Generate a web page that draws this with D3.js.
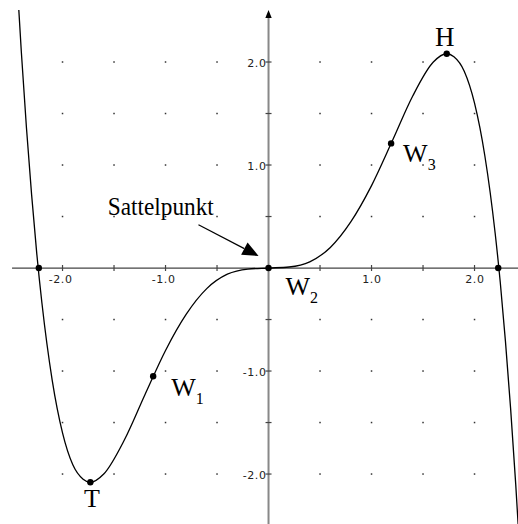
<!DOCTYPE html>
<html>
<head>
<meta charset="utf-8">
<script src="https://cdn.jsdelivr.net/npm/d3@7"></script>
<style>
  html, body { margin: 0; padding: 0; background: #fff; }
  svg { display: block; }
</style>
</head>
<body>
<div id="container"></div>
<script>
const width = 518, height = 524;

// Curve (x, f(x))
const curveX = [-2.43, -2.40, -2.35, -2.30, -2.25, -2.20, -2.10, -2.00, -1.90, -1.80, -1.73, -1.60, -1.40, -1.20, -1.00, -0.80, -0.60, -0.40, -0.20, 0,
                 0.20, 0.40, 0.60, 0.80, 1.00, 1.20, 1.40, 1.60, 1.73, 1.80, 1.90, 2.00, 2.10, 2.20, 2.25, 2.30, 2.35, 2.40, 2.43];
const curveY = [2.60, 2.10, 1.36, 0.71, 0.14, -0.34, -1.09, -1.60, -1.91, -2.05, -2.08, -2.00, -1.67, -1.23, -0.80, -0.45, -0.20, -0.06, -0.01, 0,
                0.01, 0.06, 0.20, 0.45, 0.80, 1.23, 1.67, 2.00, 2.08, 2.05, 1.91, 1.60, 1.09, 0.34, -0.14, -0.71, -1.36, -2.10, -2.60];

// Marked points: zeros, extrema, inflection points
const markX = [-2.23, 2.23, -1.73, 1.73, -1.12, 0, 1.19];
const markY = [0, 0, -2.08, 2.08, -1.05, 0, 1.21];

// Tick values and labels
const tickVals = [-2, -1.5, -1, -0.5, 0.5, 1, 1.5, 2];
const xLabelVals = [-2, -1, 1, 2];
const xLabels = ["-2.0", "-1.0", "1.0", "2.0"];
const yLabelVals = [2, 1, -1, -2];
const yLabels = ["2.0", "1.0", "-1.0", "-2.0"];
const gridVals = [-2, -1.5, -1, -0.5, 0.5, 1, 1.5, 2];

const svg = d3.select("#container").append("svg")
  .attr("width", width).attr("height", height);

svg.append("rect").attr("width", width).attr("height", height).attr("fill", "#fff");

const x = d3.scaleLinear().domain([-2.607, 2.422]).range([0, width]);
const y = d3.scaleLinear().domain([2.602, -2.485]).range([0, height]);

// dotted grid
gridVals.forEach(gx => {
  gridVals.forEach(gy => {
    svg.append("rect")
      .attr("x", x(gx) - 0.75).attr("y", y(gy) - 0.75)
      .attr("width", 1.5).attr("height", 1.5)
      .attr("fill", "#333");
  });
});

const tickFont = "'DejaVu Sans', Verdana, sans-serif";

// x axis
svg.append("line")
  .attr("x1", x(-2.49)).attr("x2", x(2.422))
  .attr("y1", y(0)).attr("y2", y(0))
  .attr("stroke", "#444").attr("stroke-width", 1.3);
tickVals.forEach(v => {
  svg.append("line")
    .attr("x1", x(v)).attr("x2", x(v))
    .attr("y1", y(0) - 3).attr("y2", y(0) + 3)
    .attr("stroke", "#444").attr("stroke-width", 1.2);
});
xLabelVals.forEach((v, i) => {
  svg.append("text")
    .attr("x", x(v) + 10).attr("y", y(0) + 15)
    .attr("text-anchor", "end")
    .attr("fill", "#222")
    .style("font-family", tickFont)
    .style("font-size", "11px")
    .style("letter-spacing", "0.6px")
    .text(xLabels[i]);
});

// y axis
svg.append("line")
  .attr("x1", x(0)).attr("x2", x(0))
  .attr("y1", y(2.45)).attr("y2", height)
  .attr("stroke", "#888").attr("stroke-width", 2);
svg.append("path")
  .attr("d", `M${x(0)},${y(2.505)} L${x(0) - 3.2},${y(2.505) + 8} L${x(0) + 3.2},${y(2.505) + 8} Z`)
  .attr("fill", "#000");
tickVals.forEach(v => {
  svg.append("line")
    .attr("x1", x(0) - 3).attr("x2", x(0) + 3)
    .attr("y1", y(v)).attr("y2", y(v))
    .attr("stroke", "#444").attr("stroke-width", 1.2);
});
yLabelVals.forEach((v, i) => {
  svg.append("text")
    .attr("x", x(0) - 2).attr("y", y(v) + 4.5)
    .attr("text-anchor", "end")
    .attr("fill", "#222")
    .style("font-family", tickFont)
    .style("font-size", "11px")
    .style("letter-spacing", "0.6px")
    .text(yLabels[i]);
});

// curve
svg.append("clipPath").attr("id", "clip")
  .append("rect").attr("x", 0).attr("y", y(2.505)).attr("width", width).attr("height", height);

const pts = curveX.map((cx, i) => [cx, curveY[i]]);
svg.append("path")
  .datum(pts)
  .attr("clip-path", "url(#clip)")
  .attr("d", d3.line().x(d => x(d[0])).y(d => y(d[1])).curve(d3.curveMonotoneX))
  .attr("fill", "none")
  .attr("stroke", "#000")
  .attr("stroke-width", 1.3);

// marked points
markX.forEach((mx, i) => {
  svg.append("circle")
    .attr("cx", x(mx)).attr("cy", y(markY[i]))
    .attr("r", 3.2).attr("fill", "#000");
});

// labels
const serif = "'Liberation Serif', 'Times New Roman', serif";
function label(px, py, main, sub, anchor, size) {
  const t = svg.append("text")
    .attr("x", px).attr("y", py)
    .attr("text-anchor", anchor || "start")
    .attr("fill", "#000")
    .style("font-family", serif)
    .style("font-size", (size || 26) + "px")
    .text(main);
  if (sub) {
    t.append("tspan").attr("dy", 8).style("font-size", "16px").text(sub);
  }
  return t;
}
label(x(1.73) - 2, y(2.08) - 8, "H", null, "middle", 27);
label(x(1.19) + 12, y(1.21) + 19, "W", "3");
label(x(0) + 17, y(0) + 27, "W", "2");
label(x(-1.12) + 18, y(-1.05) + 20, "W", "1");
label(x(-1.73) + 1.5, y(-2.08) + 25, "T", null, "middle");
label(x(-1.56), y(0.51), "Sattelpunkt", null, "start", 25)
  .attr("textLength", 106).attr("lengthAdjust", "spacingAndGlyphs");

// arrow pointing at the saddle point
const ax0 = x(-0.68), ay0 = y(0.42), ax1 = x(-0.097), ay1 = y(0.117);
const ang = Math.atan2(ay1 - ay0, ax1 - ax0);
const hl = 16, hw = 7;
const bx = ax1 - hl * Math.cos(ang), by = ay1 - hl * Math.sin(ang);
svg.append("line")
  .attr("x1", ax0).attr("y1", ay0).attr("x2", bx).attr("y2", by)
  .attr("stroke", "#000").attr("stroke-width", 1.2);
svg.append("path")
  .attr("d", `M${ax1},${ay1} L${bx - hw * Math.sin(ang)},${by + hw * Math.cos(ang)} L${bx + hw * Math.sin(ang)},${by - hw * Math.cos(ang)} Z`)
  .attr("fill", "#000");
</script>
</body>
</html>
